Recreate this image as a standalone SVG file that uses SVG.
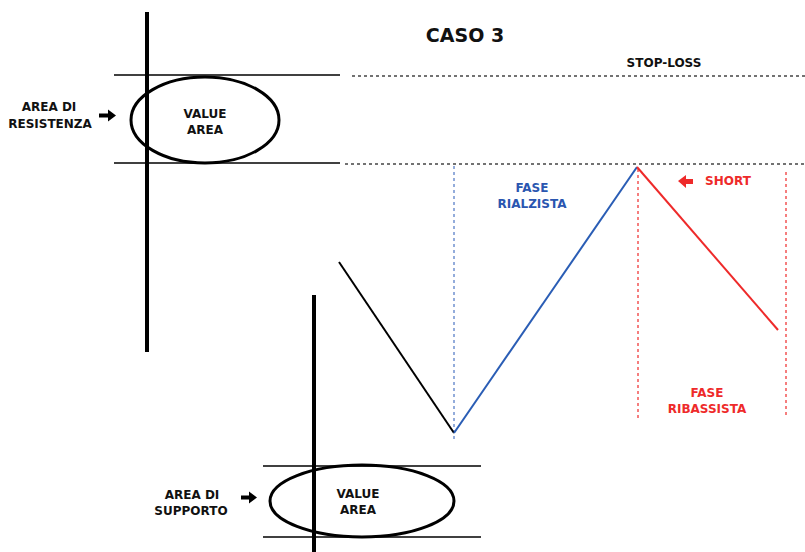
<svg xmlns="http://www.w3.org/2000/svg" width="805" height="552" viewBox="0 0 805 552">
  <defs>
    <style>
      text { font-family: "DejaVu Sans", Verdana, sans-serif; font-weight: bold; font-size: 12px; text-anchor: middle; }
      .lbl { fill: #111; }
      .blue { fill: #2a56b0; }
      .red { fill: #ee2a2a; }
      .axis { stroke: #000; stroke-width: 4; }
      .band { stroke: #000; stroke-width: 1.5; }
      .va { fill: none; stroke: #000; stroke-width: 3; }
      .dots { stroke: #444; stroke-width: 1.4; stroke-dasharray: 3 3; }
      .vblue { stroke: #5a80c8; stroke-width: 1.3; stroke-dasharray: 3 3; }
      .vred { stroke: #f03a3a; stroke-width: 1.3; stroke-dasharray: 3 3; }
    </style>
  </defs>
  <rect width="805" height="552" fill="#fff"/>

  <text x="465" y="42" style="font-size:19px" class="lbl">CASO 3</text>

  <!-- resistance zone -->
  <g id="resistenza">
    <line class="axis" x1="147" y1="12" x2="147" y2="352"/>
    <line class="band" x1="114" y1="75" x2="340" y2="75"/>
    <line class="band" x1="114" y1="163" x2="340" y2="163"/>
    <ellipse class="va" cx="205" cy="120" rx="74" ry="43"/>
    <text x="205" y="118" class="lbl">VALUE</text>
    <text x="205" y="134" class="lbl">AREA</text>
    <text x="49" y="111" class="lbl">AREA DI</text>
    <text x="50" y="128" class="lbl">RESISTENZA</text>
    <path d="M99 113.5h9v-4l8 6-8 6v-4h-9z" fill="#000"/>
  </g>

  <!-- support zone -->
  <g id="supporto">
    <line class="axis" x1="314" y1="295" x2="314" y2="552"/>
    <line class="band" x1="263" y1="466" x2="481" y2="466"/>
    <line class="band" x1="263" y1="537" x2="481" y2="537"/>
    <ellipse class="va" cx="362" cy="501" rx="92" ry="36"/>
    <text x="358" y="498" class="lbl">VALUE</text>
    <text x="358" y="514" class="lbl">AREA</text>
    <text x="192" y="499" class="lbl">AREA DI</text>
    <text x="191" y="515" class="lbl">SUPPORTO</text>
    <path d="M241 495.5h8v-4l8 6-8 6v-4h-8z" fill="#000"/>
  </g>

  <!-- levels -->
  <g id="livelli">
    <line class="dots" x1="352" y1="76" x2="805" y2="76"/>
    <line class="dots" x1="345" y1="164" x2="805" y2="164"/>
    <text x="664" y="67" class="lbl">STOP-LOSS</text>
  </g>

  <!-- price path -->
  <g id="connectors">
    <line class="vblue" x1="454" y1="166" x2="454" y2="442"/>
    <line class="vred" x1="638" y1="169" x2="638" y2="418"/>
    <line class="vred" x1="786" y1="172" x2="786" y2="416"/>
    <polyline points="339,262 454,433" fill="none" stroke="#000" stroke-width="2"/>
    <polyline points="454,433 637,167" fill="none" stroke="#2a5db5" stroke-width="2"/>
    <polyline points="637,167 778,330" fill="none" stroke="#ee2a2a" stroke-width="2"/>
  </g>

  <g id="fase-rialzista">
    <text x="532" y="192" class="blue">FASE</text>
    <text x="532" y="208" class="blue">RIALZISTA</text>
  </g>

  <g id="short">
    <path d="M678 181l8-6v4h7v5h-7v4z" fill="#ee2a2a"/>
    <text x="728" y="185" class="red">SHORT</text>
  </g>

  <g id="fase-ribassista">
    <text x="707" y="397" class="red">FASE</text>
    <text x="707" y="413" class="red">RIBASSISTA</text>
  </g>
</svg>
